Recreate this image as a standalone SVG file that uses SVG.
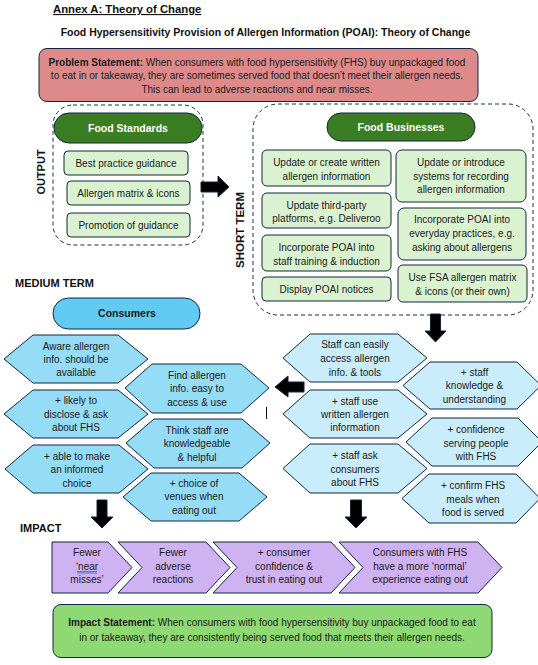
<svg xmlns="http://www.w3.org/2000/svg" width="538" height="665" viewBox="0 0 538 665">
<defs>
<style>
.t{font-family:"Liberation Sans",Arial,sans-serif;font-size:10px;fill:#1a1a1a}
.c{text-anchor:middle}
.b{font-weight:bold}
.h{font-family:"Liberation Sans",Arial,sans-serif;font-weight:bold;font-size:11px;fill:#111}
.dash{fill:none;stroke:#1e2f45;stroke-width:1;stroke-dasharray:4 3}
.ln{stroke:#12263f;stroke-width:1}
.gbox{fill:#daf2d0;stroke:#12263f;stroke-width:1}
.pill{fill:#3a7d22;stroke:#12263f;stroke-width:1}
.chex{fill:#95dcf7;stroke:#12263f;stroke-width:1}
.shex{fill:#caedfb;stroke:#12263f;stroke-width:1}
.chev{fill:#cfb2f1;stroke:#12263f;stroke-width:1}
.arr{fill:#000;stroke:#12263f;stroke-width:1}
.w{fill:#fff;font-weight:bold;font-size:10.5px}
</style>
</defs>
<rect width="538" height="665" fill="#fff"/>

<g id="titles">
<text class="h" x="53" y="13" style="font-size:11.3px;text-decoration:underline">Annex A: Theory of Change</text>
<text class="h c" x="265.5" y="36" style="font-size:10.5px">Food Hypersensitivity Provision of Allergen Information (POAI): Theory of Change</text>
<text class="h" x="15" y="287">MEDIUM TERM</text>
<text class="h" x="20" y="532">IMPACT</text>
<text class="h c" transform="translate(45,172) rotate(-90)">OUTPUT</text>
<text class="h c" transform="translate(244,230) rotate(-90)" style="font-size:11.5px">SHORT TERM</text>
</g>

<g id="problem">
<rect x="39" y="48.5" width="439" height="53" rx="8" fill="#df8a8a" stroke="#12263f" stroke-width="1"/>
<text class="t c" x="257" y="65.5"><tspan class="b">Problem Statement:</tspan> When consumers with food hypersensitivity (FHS) buy unpackaged food</text>
<text class="t c" x="257" y="79">to eat in or takeaway, they are sometimes served food that doesn’t meet their allergen needs.</text>
<text class="t c" x="257" y="93">This can lead to adverse reactions and near misses.</text>
</g>

<g id="output">
<rect class="dash" x="53" y="105" width="150" height="140" rx="20"/>
<g id="food-standards">
<rect class="pill" x="54" y="113" width="148" height="30" rx="15"/>
<text class="t c w" x="128" y="131.5">Food Standards</text>
</g>
<g id="best-practice">
<rect class="gbox" x="64" y="151" width="124" height="24" rx="4"/>
<text class="t c" x="126" y="166.5">Best practice guidance</text>
</g>
<g id="allergen-matrix">
<rect class="gbox" x="67" y="181" width="123" height="24" rx="4"/>
<text class="t c" x="128.5" y="196.5">Allergen matrix &amp; icons</text>
</g>
<g id="promotion">
<rect class="gbox" x="67" y="213" width="123" height="24" rx="4"/>
<text class="t c" x="128.5" y="228.5">Promotion of guidance</text>
</g>
</g>

<g id="short-term">
<rect class="dash" x="253" y="104" width="280" height="211" rx="25"/>
<g id="food-businesses">
<rect class="pill" x="327" y="113" width="148" height="28" rx="14"/>
<text class="t c w" x="401" y="130.5">Food Businesses</text>
</g>
<g id="fb-written">
<rect class="gbox" x="262" y="150" width="129" height="36" rx="5"/>
<text class="t c" x="326.5" y="165.5">Update or create written</text>
<text class="t c" x="326.5" y="179.5">allergen information</text>
</g>
<g id="fb-thirdparty">
<rect class="gbox" x="262" y="193" width="129" height="35" rx="5"/>
<text class="t c" x="326.5" y="208.5">Update third-party</text>
<text class="t c" x="326.5" y="221.5">platforms, e.g. Deliveroo</text>
</g>
<g id="fb-training">
<rect class="gbox" x="262" y="235" width="129" height="36" rx="5"/>
<text class="t c" x="326.5" y="250.5">Incorporate POAI into</text>
<text class="t c" x="326.5" y="264.5">staff training &amp; induction</text>
</g>
<g id="fb-notices">
<rect class="gbox" x="262" y="277" width="129" height="24" rx="4"/>
<text class="t c" x="326.5" y="292.5">Display POAI notices</text>
</g>
<g id="fb-systems">
<rect class="gbox" x="396" y="150" width="130" height="52" rx="6"/>
<text class="t c" x="461" y="165.5">Update or introduce</text>
<text class="t c" x="461" y="179.5">systems for recording</text>
<text class="t c" x="461" y="192.5">allergen information</text>
</g>
<g id="fb-everyday">
<rect class="gbox" x="398" y="208" width="128" height="52" rx="6"/>
<text class="t c" x="462" y="222.5">Incorporate POAI into</text>
<text class="t c" x="462" y="236.5">everyday practices, e.g.</text>
<text class="t c" x="462" y="250.5">asking about allergens</text>
</g>
<g id="fb-matrix">
<rect class="gbox" x="398" y="265" width="129" height="37" rx="5"/>
<text class="t c" x="462.5" y="280.5">Use FSA allergen matrix</text>
<text class="t c" x="462.5" y="294.5">&amp; icons (or their own)</text>
</g>
</g>

<g id="consumers">
<rect x="53" y="298" width="147" height="31" rx="15.5" fill="#61cbf3" stroke="#12263f" stroke-width="1"/>
<text class="t c b" x="127" y="316.5" style="font-size:10.5px">Consumers</text>
</g>
<g id="c-aware">
<polygon class="chex" points="4,359 33,335 118,335 148,359 118,383 33,383"/>
<text class="t c" x="76" y="349.5">Aware allergen</text>
<text class="t c" x="76" y="362.5">info. should be</text>
<text class="t c" x="76" y="375.5">available</text>
</g>
<g id="c-find">
<polygon class="chex" points="125,388 152,364 241,364 269,388 241,413 152,413"/>
<text class="t c" x="197" y="378.5">Find allergen</text>
<text class="t c" x="197" y="391.5">info. easy to</text>
<text class="t c" x="197" y="405.5">access &amp; use</text>
</g>
<g id="c-disclose">
<polygon class="chex" points="4,414 33,390 118,390 148,414 118,438 33,438"/>
<text class="t c" x="76" y="404">+ likely to</text>
<text class="t c" x="76" y="417.5">disclose &amp; ask</text>
<text class="t c" x="76" y="431">about FHS</text>
</g>
<g id="c-think">
<polygon class="chex" points="126,443 154,419 242,419 270,443 242,468 154,468"/>
<text class="t c" x="197" y="433.5">Think staff are</text>
<text class="t c" x="197" y="447">knowledgeable</text>
<text class="t c" x="197" y="460.5">&amp; helpful</text>
</g>
<g id="c-informed">
<polygon class="chex" points="5,469 33,445 119,445 148,469 119,493 33,493"/>
<text class="t c" x="77" y="459.5">+ able to make</text>
<text class="t c" x="77" y="473">an informed</text>
<text class="t c" x="77" y="486.5">choice</text>
</g>
<g id="c-choice">
<polygon class="chex" points="123,497 151,473 239,473 267,497 239,521 151,521"/>
<text class="t c" x="194" y="486.5">+ choice of</text>
<text class="t c" x="194" y="500">venues when</text>
<text class="t c" x="194" y="514">eating out</text>
</g>

<g id="s-access">
<polygon class="shex" points="283,358 310,334 398,334 427,358 398,382 310,382"/>
<text class="t c" x="355" y="347.5">Staff can easily</text>
<text class="t c" x="355" y="361.5">access allergen</text>
<text class="t c" x="355" y="375.5">info. &amp; tools</text>
</g>
<g id="s-knowledge">
<polygon class="shex" points="403,385.5 430,362 517,362 541,385.5 517,409 430,409"/>
<text class="t c" x="474.5" y="375.5">+ staff</text>
<text class="t c" x="474.5" y="389">knowledge &amp;</text>
<text class="t c" x="474.5" y="402.5">understanding</text>
</g>
<g id="s-written">
<polygon class="shex" points="283,414 310,390 398,390 427,414 398,438 310,438"/>
<text class="t c" x="355" y="404.5">+ staff use</text>
<text class="t c" x="355" y="418">written allergen</text>
<text class="t c" x="355" y="431">information</text>
</g>
<g id="s-confidence">
<polygon class="shex" points="406,442 432,418 518,418 542,442 518,466 432,466"/>
<text class="t c" x="476" y="432.5">+ confidence</text>
<text class="t c" x="476" y="446.5">serving people</text>
<text class="t c" x="476" y="459.5">with FHS</text>
</g>
<g id="s-ask">
<polygon class="shex" points="283,468.5 310,444 398,444 427,468.5 398,493 310,493"/>
<text class="t c" x="355" y="458.5">+ staff ask</text>
<text class="t c" x="355" y="472.5">consumers</text>
<text class="t c" x="355" y="485.5">about FHS</text>
</g>
<g id="s-confirm">
<polygon class="shex" points="402,498.5 429,474 516,474 540,498.5 516,523 429,523"/>
<text class="t c" x="473" y="488.5">+ confirm FHS</text>
<text class="t c" x="473" y="502.5">meals when</text>
<text class="t c" x="473" y="515.5">food is served</text>
</g>

<g id="connectors">
<polygon class="arr" points="201,182 218,182 218,176 229,187 218,197 218,192 201,192"/>
<polygon class="arr" points="430.5,314 440.5,314 440.5,331 446,331 435.5,342 425,331 430.5,331"/>
<polygon class="arr" points="304,382 288,382 288,376 275,387 288,397 288,392 304,392"/>
<polygon class="arr" points="97,500 107,500 107,517 113,517 102,528 91,517 97,517"/>
<polygon class="arr" points="350.5,500 361.5,500 361.5,517 367,517 356,528 345,517 350.5,517"/>
<line x1="266.5" y1="407" x2="266.5" y2="419" stroke="#111" stroke-width="1"/>
</g>

<g id="i-near">
<polygon class="chev" points="52,542 108,542 132,567.5 108,593 52,593"/>
<text class="t c" x="87" y="555.5">Fewer</text>
<text class="t c" x="87" y="569.5">‘near</text>
<text class="t c" x="87" y="583">misses’</text>
<line x1="77" y1="571.5" x2="97" y2="571.5" stroke="#3b5fc8" stroke-width="0.8"/>
<line x1="77" y1="573" x2="97" y2="573" stroke="#3b5fc8" stroke-width="0.8"/>
</g>
<g id="i-adverse">
<polygon class="chev" points="118,542 206,542 230,567.5 206,593 118,593 142,567.5"/>
<text class="t c" x="173" y="555.5">Fewer</text>
<text class="t c" x="173" y="569.5">adverse</text>
<text class="t c" x="173" y="583">reactions</text>
</g>
<g id="i-confidence">
<polygon class="chev" points="213,542 331,542 355,567.5 331,593 213,593 237,567.5"/>
<text class="t c" x="284" y="555.5">+ consumer</text>
<text class="t c" x="284" y="569.5">confidence &amp;</text>
<text class="t c" x="284" y="583">trust in eating out</text>
</g>
<g id="i-normal">
<polygon class="chev" points="339,542 478,542 502,567.5 478,593 339,593 363,567.5"/>
<text class="t c" x="420" y="555.5">Consumers with FHS</text>
<text class="t c" x="420" y="569.5">have a more ‘normal’</text>
<text class="t c" x="420" y="583">experience eating out</text>
</g>

<g id="impact-statement">
<rect x="53" y="604.5" width="439" height="53" rx="8" fill="#8ed973" stroke="#12263f" stroke-width="1"/>
<text class="t c" x="272" y="626"><tspan class="b">Impact Statement:</tspan> When consumers with food hypersensitivity buy unpackaged food to eat</text>
<text class="t c" x="272" y="641">in or takeaway, they are consistently being served food that meets their allergen needs.</text>
</g>
</svg>
